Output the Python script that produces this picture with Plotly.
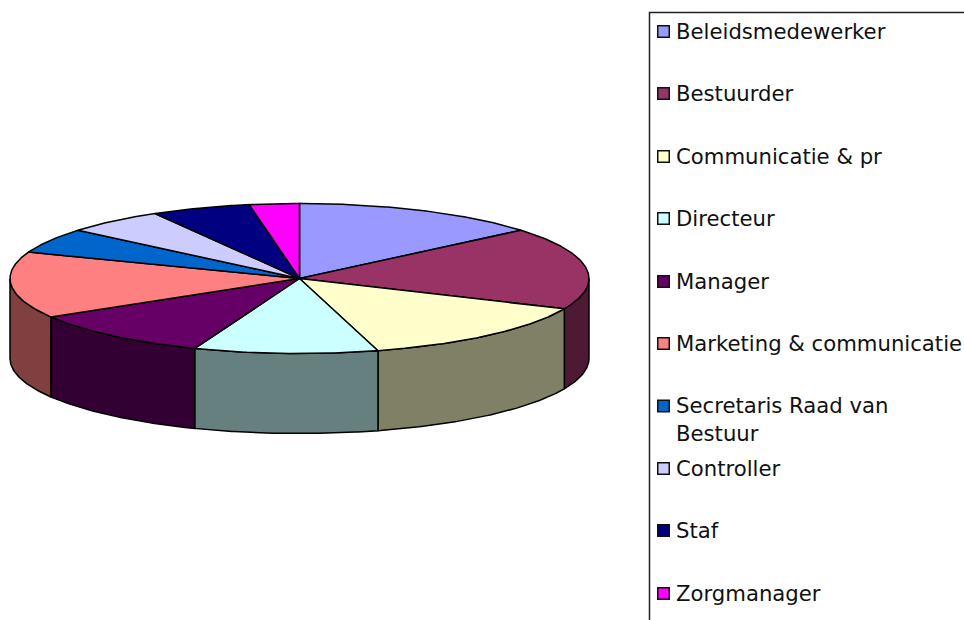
import numpy as np
import plotly.graph_objects as go

categories = ["Beleidsmedewerker", "Bestuurder", "Communicatie & pr", "Directeur", "Manager",
              "Marketing & communicatie", "Secretaris Raad van<br>Bestuur", "Controller", "Staf", "Zorgmanager"]
values = [50, 64, 50.5, 37, 38, 51.5, 19.5, 20, 20, 10]
top_colors = ["#9999FF", "#993366", "#FFFFCC", "#CCFFFF", "#660066",
              "#FF8080", "#0066CC", "#CCCCFF", "#000080", "#FF00FF"]
side_colors = ["#4D4D80", "#4D1933", "#808066", "#668080", "#330033",
               "#804040", "#003366", "#666680", "#000040", "#800080"]
legend_y = [31, 93, 156, 218, 281, 343, 419, 468, 530, 593]

CX, CY, RX, RY, DEPTH = 299.5, 278.5, 289.5, 75, 80
W, H = 964, 620


def rim(t0, t1, dy=0.0):
    t = np.radians(np.linspace(t0, t1, max(int(abs(t1 - t0) * 2), 2)))
    return CX + RX * np.sin(t), CY - RY * np.cos(t) + dy


total = sum(values)
edges = np.concatenate([[0], np.cumsum(values)]) * 360 / total

fig = go.Figure()

# Outer walls: only the part of each slice facing the viewer
for i in range(len(values)):
    a, b = max(edges[i], 90), min(edges[i + 1], 270)
    if a >= b:
        continue
    xt, yt = rim(a, b)
    xb, yb = rim(a, b, DEPTH)
    fig.add_trace(go.Scatter(
        x=np.r_[xt, xb[::-1], xt[0]], y=np.r_[yt, yb[::-1], yt[0]],
        mode="lines", fill="toself", fillcolor=side_colors[i],
        line=dict(color="#000000", width=1.5), hoverinfo="skip", showlegend=False))

# Top face
for i in range(len(values)):
    xt, yt = rim(edges[i], edges[i + 1])
    fig.add_trace(go.Scatter(
        x=np.r_[CX, xt, CX], y=np.r_[CY, yt, CY],
        mode="lines", fill="toself", fillcolor=top_colors[i],
        line=dict(color="#000000", width=1.5), hoverinfo="skip", showlegend=False))

# Legend swatches: aligned with the first line of each label
swatch_y = [y - 13 if "<br>" in c else y + 0.5 for c, y in zip(categories, legend_y)]
fig.add_trace(go.Scatter(
    x=[663.5] * len(categories), y=swatch_y, mode="markers",
    marker=dict(symbol="square", size=11.5, color=top_colors, line=dict(color="#111111", width=1.5)),
    hoverinfo="skip", showlegend=False))

annotations = [dict(x=674, y=y, xref="x", yref="y", text=c, showarrow=False, align="left",
                    xanchor="left", yanchor="middle",
                    font=dict(family="DejaVu Sans", size=21.2, color="#111111"))
               for c, y in zip(categories, legend_y)]

fig.update_layout(
    width=W, height=H, margin=dict(l=0, r=0, t=0, b=0),
    paper_bgcolor="#FFFFFF", plot_bgcolor="#FFFFFF",
    xaxis=dict(range=[0, W], visible=False, fixedrange=True),
    yaxis=dict(range=[H, 0], visible=False, fixedrange=True),
    annotations=annotations,
    shapes=[dict(type="rect", xref="x", yref="y", x0=649.5, y0=12.5, x1=W + 20, y1=H + 20,
                 line=dict(color="#222222", width=1.5), layer="below")],
)
fig.write_html("out.html", config={"displayModeBar": False},
               post_script="document.body.style.margin='0';document.body.style.overflow='hidden';")
